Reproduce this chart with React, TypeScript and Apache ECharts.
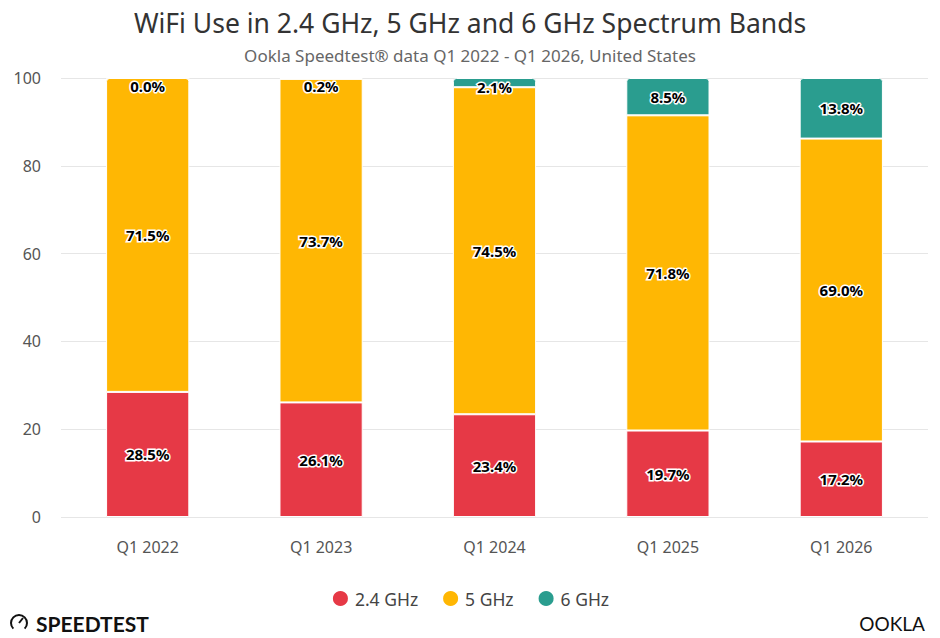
import React, { useEffect, useRef } from "react";
import * as echarts from "echarts";

const categories = ["Q1 2022", "Q1 2023", "Q1 2024", "Q1 2025", "Q1 2026"];
const band24 = [28.5, 26.1, 23.4, 19.7, 17.2];
const band5 = [71.5, 73.7, 74.5, 71.8, 69.0];
const band6 = [0.0, 0.2, 2.1, 8.5, 13.8];
const seriesNames = ["2.4 GHz", "5 GHz", "6 GHz"];
const colors = ["#E63946", "#FFB703", "#2A9D8F"];
const yTicks = [0, 20, 40, 60, 80, 100];

const FONT = "'Noto Sans', 'Open Sans', sans-serif";

export default function App() {
  const ref = useRef<HTMLDivElement>(null);
  useEffect(() => {
    if (!ref.current) return;
    const chart = echarts.init(ref.current, null, { renderer: "svg" });
    const label = {
      show: true,
      formatter: (p: any) => Number(p.value).toFixed(1) + "%",
      color: "#000",
      fontWeight: "bold" as const,
      fontSize: 15,
      fontFamily: FONT,
      textBorderColor: "#fff",
      textBorderWidth: 3,
    };
    const mk = (vals: number[], idx: number) =>
      vals.map((v, i) => {
        const item: any = { value: v };
        const topMost = idx === 2 || (idx === 1 && band6[i] === 0);
        if (topMost) item.itemStyle = { borderRadius: [3, 3, 0, 0] };
        if (idx === 2 && v < 5) {
          item.label = { position: "insideTop", distance: 1 };
        }
        return item;
      });
    chart.setOption({
      animation: false,
      textStyle: { fontFamily: FONT },
      title: [
        {
          text: "WiFi Use in 2.4 GHz, 5 GHz and 6 GHz Spectrum Bands",
          left: "center",
          top: 4,
          textStyle: { fontSize: 26.5, fontWeight: "normal", color: "#333", fontFamily: FONT },
        },
        {
          text: "Ookla Speedtest® data Q1 2022 - Q1 2026, United States",
          left: "center",
          top: 42,
          textStyle: { fontSize: 17, fontWeight: "normal", color: "#666", fontFamily: FONT },
        },
      ],
      legend: {
        data: seriesNames,
        top: 584,
        left: "center",
        icon: "circle",
        itemWidth: 17,
        itemHeight: 17,
        itemGap: 23,
        textStyle: { fontSize: 17.5, color: "#444", fontFamily: FONT, padding: [0, 0, 0, 1] },
      },
      grid: { left: 61, right: 12, top: 78, bottom: 121, containLabel: false },
      xAxis: {
        type: "category",
        data: categories,
        axisLine: { show: false },
        axisTick: { show: false },
        axisLabel: { fontSize: 16, color: "#555", margin: 22, fontFamily: FONT },
      },
      yAxis: {
        type: "value",
        min: 0,
        max: 100,
        interval: 20,
        axisLabel: {
          fontSize: 16,
          color: "#555",
          margin: 20,
          fontFamily: FONT,
          formatter: (v: number) => (yTicks.includes(v) ? String(v) : ""),
        },
        splitLine: { lineStyle: { color: "#e6e6e6", width: 1 } },
        axisLine: { show: false },
        axisTick: { show: false },
      },
      series: [band24, band5, band6].map((vals, idx) => ({
        name: seriesNames[idx],
        type: "bar",
        stack: "total",
        barWidth: "48%",
        data: mk(vals, idx),
        itemStyle: { color: colors[idx], borderColor: "#fff", borderWidth: 1 },
        label: { ...label, position: "inside" },
      })),
      graphic: [
        {
          type: "arc",
          shape: { cx: 19, cy: 623, r: 8, startAngle: Math.PI * 0.75, endAngle: Math.PI * 0.25 },
          style: { stroke: "#111", lineWidth: 2, fill: "none" },
        },
        {
          type: "line",
          shape: { x1: 19, y1: 623, x2: 23, y2: 618 },
          style: { stroke: "#111", lineWidth: 2 },
        },
        {
          type: "text",
          x: 36,
          y: 623,
          style: {
            text: "SPEEDTEST",
            fontSize: 21,
            fontWeight: "bold",
            fontFamily: "Lato, 'Noto Sans', sans-serif",
            fill: "#111",
            verticalAlign: "middle",
          },
        },
        {
          type: "text",
          x: 925,
          y: 623,
          style: {
            text: "OOKLA",
            fontSize: 19,
            fontFamily: "Lato, 'Noto Sans', sans-serif",
            fill: "#111",
            align: "right",
            verticalAlign: "middle",
          },
        },
      ],
    });
    return () => chart.dispose();
  }, []);
  return (
    <div
      ref={ref}
      style={{ position: "fixed", left: 0, top: 0, width: 940, height: 638, background: "#fff" }}
    />
  );
}
